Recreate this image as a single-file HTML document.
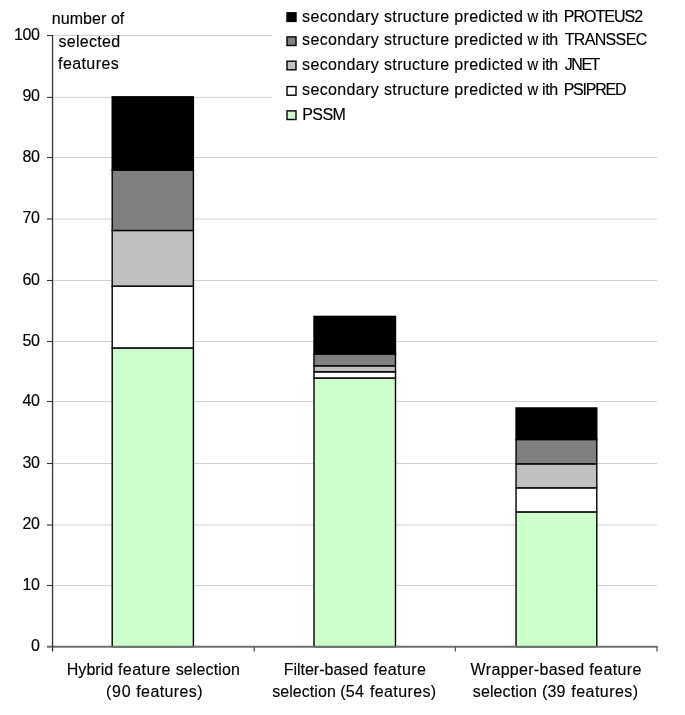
<!DOCTYPE html>
<html><head><meta charset="utf-8"><title>chart</title>
<style>
html,body{margin:0;padding:0;background:#fff;}
body{width:685px;height:715px;overflow:hidden;}
svg{display:block;will-change:transform;}
text{font-family:"Liberation Sans",sans-serif;font-size:16px;fill:#000;stroke:#000;stroke-width:0.15px;font-kerning:none;white-space:pre;}
</style></head><body>
<svg width="685" height="715" viewBox="0 0 685 715">
<defs><filter id="soft" x="0" y="0" width="685" height="715" filterUnits="userSpaceOnUse"><feGaussianBlur stdDeviation="0.3"/></filter></defs>
<rect x="0" y="0" width="685" height="715" fill="#ffffff"/>
<g filter="url(#soft)">
<rect x="-5" y="-5" width="695" height="725" fill="#ffffff"/>
<line x1="53" y1="585.5" x2="657" y2="585.5" stroke="#d0d0d0" stroke-width="1"/>
<line x1="53" y1="525.0" x2="657" y2="525.0" stroke="#d0d0d0" stroke-width="1"/>
<line x1="53" y1="463.5" x2="657" y2="463.5" stroke="#d0d0d0" stroke-width="1"/>
<line x1="53" y1="401.5" x2="657" y2="401.5" stroke="#d0d0d0" stroke-width="1"/>
<line x1="53" y1="341.5" x2="657" y2="341.5" stroke="#d0d0d0" stroke-width="1"/>
<line x1="53" y1="280.5" x2="657" y2="280.5" stroke="#d0d0d0" stroke-width="1"/>
<line x1="53" y1="219.0" x2="657" y2="219.0" stroke="#d0d0d0" stroke-width="1"/>
<line x1="53" y1="157.5" x2="657" y2="157.5" stroke="#d0d0d0" stroke-width="1"/>
<line x1="53" y1="97.4" x2="657" y2="97.4" stroke="#d0d0d0" stroke-width="1"/>
<line x1="53" y1="35.5" x2="657" y2="35.5" stroke="#d0d0d0" stroke-width="1"/>
<rect x="271.8" y="0" width="414" height="130" fill="#ffffff"/>
<rect x="112.20" y="347.95" width="81.20" height="298.80" fill="#ccffcc" stroke="#000" stroke-width="1.4"/>
<rect x="112.20" y="286.10" width="81.20" height="61.85" fill="#ffffff" stroke="#000" stroke-width="1.4"/>
<rect x="112.20" y="230.45" width="81.20" height="55.65" fill="#c0c0c0" stroke="#000" stroke-width="1.4"/>
<rect x="112.20" y="170.20" width="81.20" height="60.25" fill="#808080" stroke="#000" stroke-width="1.4"/>
<rect x="112.20" y="96.80" width="81.20" height="73.40" fill="#000000" stroke="#000" stroke-width="1.4"/>
<rect x="314.00" y="378.00" width="81.50" height="268.75" fill="#ccffcc" stroke="#000" stroke-width="1.4"/>
<rect x="314.00" y="371.80" width="81.50" height="6.20" fill="#ffffff" stroke="#000" stroke-width="1.4"/>
<rect x="314.00" y="365.80" width="81.50" height="6.00" fill="#c0c0c0" stroke="#000" stroke-width="1.4"/>
<rect x="314.00" y="354.00" width="81.50" height="11.80" fill="#808080" stroke="#000" stroke-width="1.4"/>
<rect x="314.00" y="316.40" width="81.50" height="37.60" fill="#000000" stroke="#000" stroke-width="1.4"/>
<rect x="516.05" y="511.90" width="80.75" height="134.85" fill="#ccffcc" stroke="#000" stroke-width="1.4"/>
<rect x="516.05" y="487.85" width="80.75" height="24.05" fill="#ffffff" stroke="#000" stroke-width="1.4"/>
<rect x="516.05" y="463.85" width="80.75" height="24.00" fill="#c0c0c0" stroke="#000" stroke-width="1.4"/>
<rect x="516.05" y="439.50" width="80.75" height="24.35" fill="#808080" stroke="#000" stroke-width="1.4"/>
<rect x="516.05" y="407.95" width="80.75" height="31.55" fill="#000000" stroke="#000" stroke-width="1.4"/>
<line x1="47" y1="646.8" x2="657.6" y2="646.8" stroke="#707070" stroke-width="1.9"/>
<line x1="52.55" y1="35" x2="52.55" y2="651.5" stroke="#333333" stroke-width="1.3"/>
<line x1="47" y1="585.5" x2="52.5" y2="585.5" stroke="#333333" stroke-width="1.1"/>
<line x1="47" y1="525.0" x2="52.5" y2="525.0" stroke="#333333" stroke-width="1.1"/>
<line x1="47" y1="463.5" x2="52.5" y2="463.5" stroke="#333333" stroke-width="1.1"/>
<line x1="47" y1="401.5" x2="52.5" y2="401.5" stroke="#333333" stroke-width="1.1"/>
<line x1="47" y1="341.5" x2="52.5" y2="341.5" stroke="#333333" stroke-width="1.1"/>
<line x1="47" y1="280.5" x2="52.5" y2="280.5" stroke="#333333" stroke-width="1.1"/>
<line x1="47" y1="219.0" x2="52.5" y2="219.0" stroke="#333333" stroke-width="1.1"/>
<line x1="47" y1="157.5" x2="52.5" y2="157.5" stroke="#333333" stroke-width="1.1"/>
<line x1="47" y1="97.4" x2="52.5" y2="97.4" stroke="#333333" stroke-width="1.1"/>
<line x1="47" y1="35.5" x2="52.5" y2="35.5" stroke="#333333" stroke-width="1.1"/>
<line x1="254.3" y1="646.5" x2="254.3" y2="651.6" stroke="#5a5a5a" stroke-width="1.3"/>
<line x1="455.4" y1="646.5" x2="455.4" y2="651.6" stroke="#5a5a5a" stroke-width="1.3"/>
<line x1="657" y1="646.5" x2="657" y2="651.6" stroke="#5a5a5a" stroke-width="1.3"/>
<g style="filter:grayscale(1)">
<text transform="translate(31.03 650.75) scale(1 1)" letter-spacing="-0.4">0</text>
<text transform="translate(22.53 589.50) scale(1 1)" letter-spacing="-0.4">10</text>
<text transform="translate(22.53 529.00) scale(1 1)" letter-spacing="-0.4">20</text>
<text transform="translate(22.53 467.50) scale(1 1)" letter-spacing="-0.4">30</text>
<text transform="translate(22.53 405.50) scale(1 1)" letter-spacing="-0.4">40</text>
<text transform="translate(22.53 345.50) scale(1 1)" letter-spacing="-0.4">50</text>
<text transform="translate(22.53 284.50) scale(1 1)" letter-spacing="-0.4">60</text>
<text transform="translate(22.53 223.00) scale(1 1)" letter-spacing="-0.4">70</text>
<text transform="translate(22.53 161.50) scale(1 1)" letter-spacing="-0.4">80</text>
<text transform="translate(22.53 101.40) scale(1 1)" letter-spacing="-0.4">90</text>
<text transform="translate(14.03 39.50) scale(1 1)" letter-spacing="-0.4">100</text>
<text transform="translate(51.84 24.20) scale(1 1)" letter-spacing="0.050">number of</text>
<text transform="translate(58.55 46.80) scale(1 1)" letter-spacing="0.269">selected</text>
<text transform="translate(58.07 69.40) scale(1 1)" letter-spacing="0.399">features</text>
<text transform="translate(66.79 674.90) scale(1 1)" letter-spacing="0.022">Hybrid</text>
<text transform="translate(117.97 674.90) scale(1 1)" letter-spacing="0.454">feature</text>
<text transform="translate(175.65 674.90) scale(1 1)" letter-spacing="0.129">selection</text>
<text transform="translate(106.01 696.90) scale(1 1)" letter-spacing="0.696">(90</text>
<text transform="translate(136.27 696.90) scale(1 1)" letter-spacing="0.385">features)</text>
<text transform="translate(283.69 674.90) scale(1 1)" letter-spacing="-0.012">Filter-based</text>
<text transform="translate(373.67 674.90) scale(1 1)" letter-spacing="0.404">feature</text>
<text transform="translate(272.15 696.90) scale(1 1)" letter-spacing="0.067">selection</text>
<text transform="translate(340.21 696.90) scale(1 1)" letter-spacing="0.268">(54</text>
<text transform="translate(369.97 696.90) scale(1 1)" letter-spacing="0.385">features)</text>
<text transform="translate(470.43 674.90) scale(1 1)" letter-spacing="0.294">Wrapper-based</text>
<text transform="translate(589.27 674.90) scale(1 1)" letter-spacing="0.388">feature</text>
<text transform="translate(472.85 696.90) scale(1 1)" letter-spacing="0.104">selection</text>
<text transform="translate(542.11 696.90) scale(1 1)" letter-spacing="0.113">(39</text>
<text transform="translate(571.37 696.90) scale(1 1)" letter-spacing="0.435">features)</text>
<text transform="translate(302.05 21.60) scale(1 1)" letter-spacing="0.364">secondary structure predicted</text>
<text transform="translate(527.62 21.60) scale(0.9210 1)">w</text>
<text transform="translate(542.03 21.60) scale(1 1)" letter-spacing="-0.445">ith</text>
<text transform="translate(563.69 21.60) scale(1 1)" letter-spacing="-0.961">PROTEUS2</text>
<text transform="translate(302.05 45.30) scale(1 1)" letter-spacing="0.364">secondary structure predicted</text>
<text transform="translate(527.62 45.30) scale(0.9210 1)">w</text>
<text transform="translate(542.03 45.30) scale(1 1)" letter-spacing="-0.445">ith</text>
<text transform="translate(564.64 45.30) scale(1 1)" letter-spacing="-0.651">TRANSSEC</text>
<text transform="translate(302.05 69.50) scale(1 1)" letter-spacing="0.364">secondary structure predicted</text>
<text transform="translate(527.62 69.50) scale(0.9210 1)">w</text>
<text transform="translate(542.03 69.50) scale(1 1)" letter-spacing="-0.445">ith</text>
<text transform="translate(564.75 69.50) scale(1 1)" letter-spacing="-1.461">JNET</text>
<text transform="translate(302.05 95.00) scale(1 1)" letter-spacing="0.364">secondary structure predicted</text>
<text transform="translate(527.62 95.00) scale(0.9210 1)">w</text>
<text transform="translate(542.03 95.00) scale(1 1)" letter-spacing="-0.445">ith</text>
<text transform="translate(563.69 95.00) scale(1 1)" letter-spacing="-1.244">PSIPRED</text>
<text transform="translate(302.19 119.60) scale(1 1)" letter-spacing="-0.540">PSSM</text>
</g>
<rect x="287.0" y="12.80" width="9.0" height="8.6" fill="#000000" stroke="#000" stroke-width="1.4"/>
<rect x="287.0" y="36.90" width="9.0" height="8.6" fill="#808080" stroke="#000" stroke-width="1.4"/>
<rect x="287.0" y="61.20" width="9.0" height="8.6" fill="#c0c0c0" stroke="#000" stroke-width="1.4"/>
<rect x="287.0" y="86.60" width="9.0" height="8.6" fill="#ffffff" stroke="#000" stroke-width="1.4"/>
<rect x="287.0" y="110.90" width="9.0" height="8.6" fill="#ccffcc" stroke="#000" stroke-width="1.4"/>
</g>
</svg>
</body></html>
